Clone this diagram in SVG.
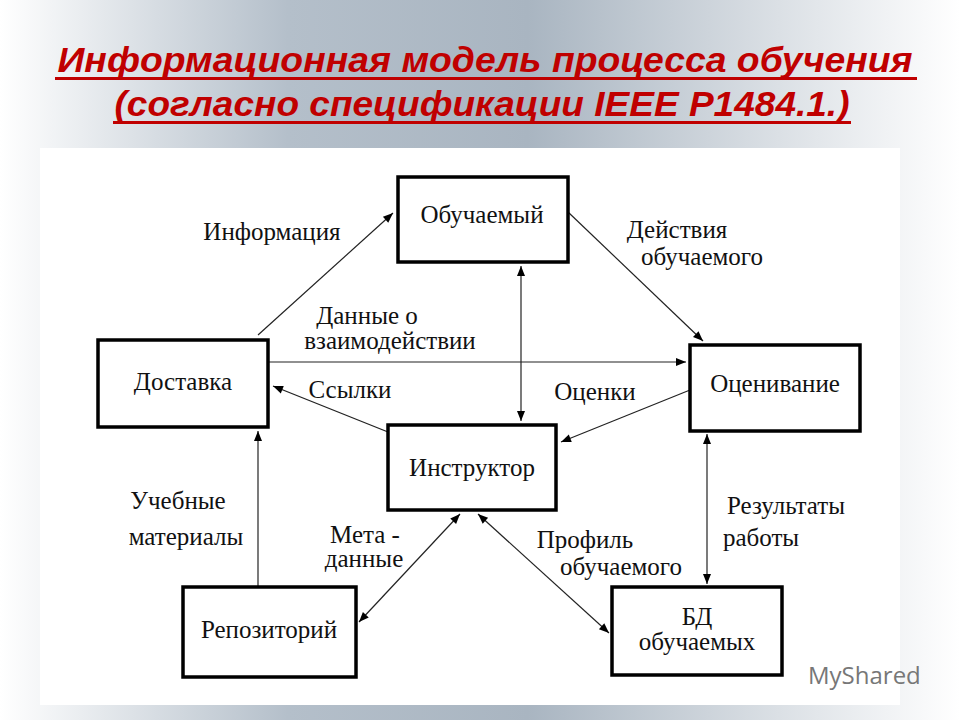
<svg xmlns="http://www.w3.org/2000/svg" width="960" height="720" viewBox="0 0 960 720">
<defs>
<linearGradient id="bg" x1="0" y1="0" x2="1" y2="0">
<stop offset="0" stop-color="#ffffff"/><stop offset="0.3" stop-color="#b4bfca"/><stop offset="0.55" stop-color="#a9b5c1"/><stop offset="1" stop-color="#ffffff"/>
</linearGradient>
<marker id="a" viewBox="0 0 10 10" refX="10" refY="5" markerWidth="12" markerHeight="10" markerUnits="userSpaceOnUse" orient="auto-start-reverse"><path d="M0,1 L10,5 L0,9 Z" fill="#000"/></marker>
<style>
.box{fill:#fff;stroke:#000;stroke-width:3.5}
.t{font-family:"Liberation Serif",serif;font-size:25px;fill:#111}
.c{text-anchor:middle}
.ln{stroke:#222;stroke-width:1.2;fill:none}
.ti{font-family:"Liberation Sans",sans-serif;font-weight:bold;font-style:italic;font-size:35px;fill:#c00000;text-anchor:middle}
</style>
</defs>
<rect width="960" height="720" fill="url(#bg)"/>
<rect x="40" y="148" width="860" height="557" fill="#fff"/>
<text class="ti" x="485" y="72" textLength="855" lengthAdjust="spacingAndGlyphs">Информационная модель процесса обучения</text>
<rect x="55" y="77" width="862" height="3" fill="#c00000"/>
<text class="ti" x="482" y="116" textLength="735" lengthAdjust="spacingAndGlyphs">(согласно спецификации IEEE P1484.1.)</text>
<rect x="113" y="121" width="738" height="3" fill="#c00000"/>
<g id="connectors">
<line class="ln" x1="258" y1="335" x2="393" y2="213" marker-end="url(#a)"/>
<line class="ln" x1="568" y1="212" x2="703" y2="341" marker-end="url(#a)"/>
<line class="ln" x1="268" y1="362" x2="686" y2="362" marker-end="url(#a)"/>
<line class="ln" x1="388" y1="432" x2="273" y2="386" marker-end="url(#a)"/>
<line class="ln" x1="690" y1="390" x2="561" y2="442" marker-end="url(#a)"/>
<line class="ln" x1="521" y1="266" x2="521" y2="421" marker-start="url(#a)" marker-end="url(#a)"/>
<line class="ln" x1="258" y1="587" x2="258" y2="431" marker-end="url(#a)"/>
<line class="ln" x1="460" y1="514" x2="359" y2="622" marker-start="url(#a)" marker-end="url(#a)"/>
<line class="ln" x1="478" y1="514" x2="609" y2="633" marker-start="url(#a)" marker-end="url(#a)"/>
<line class="ln" x1="707" y1="434" x2="707" y2="584" marker-start="url(#a)" marker-end="url(#a)"/>
<text class="t c" x="272" y="240">Информация</text>
<text class="t c" x="677" y="238">Действия</text>
<text class="t c" x="702" y="265">обучаемого</text>
<text class="t c" x="367" y="324">Данные о</text>
<text class="t c" x="390" y="349">взаимодействии</text>
<text class="t c" x="350" y="398">Ссылки</text>
<text class="t c" x="595" y="400">Оценки</text>
<text class="t c" x="178" y="509">Учебные</text>
<text class="t c" x="186" y="545">материалы</text>
<text class="t c" x="365" y="543">Мета -</text>
<text class="t c" x="364" y="567">данные</text>
<text class="t c" x="585" y="548">Профиль</text>
<text class="t c" x="621" y="575">обучаемого</text>
<text class="t c" x="786" y="514">Результаты</text>
<text class="t c" x="761" y="546">работы</text>
</g>
<g id="n1"><rect class="box" x="398" y="177" width="170" height="85"/><text class="t c" x="482" y="223">Обучаемый</text></g>
<g id="n2"><rect class="box" x="98" y="340" width="170" height="87"/><text class="t c" x="183" y="390">Доставка</text></g>
<g id="n3"><rect class="box" x="690" y="345" width="170" height="86"/><text class="t c" x="775" y="392">Оценивание</text></g>
<g id="n4"><rect class="box" x="388" y="425" width="168" height="85"/><text class="t c" x="472" y="476">Инструктор</text></g>
<g id="n5"><rect class="box" x="183" y="587" width="173" height="90"/><text class="t c" x="269" y="638">Репозиторий</text></g>
<g id="n6"><rect class="box" x="612" y="587" width="170" height="88"/><text class="t c" x="697" y="625">БД</text><text class="t c" x="697" y="650">обучаемых</text></g>
<text x="808" y="684" font-family="Open Sans,sans-serif" font-size="24" fill="#777">MyShared</text>
</svg>
